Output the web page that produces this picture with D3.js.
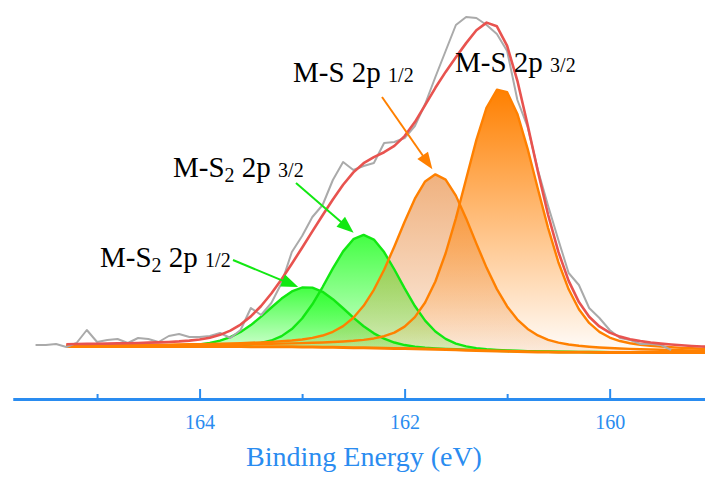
<!DOCTYPE html>
<html><head><meta charset="utf-8">
<script src="https://cdn.jsdelivr.net/npm/d3@7"></script>
<style>body{margin:0;background:#fff;} svg{display:block;} text{white-space:pre;}</style>
</head><body><svg id="chart" width="705" height="478"></svg>
<script>
// ---------- DATA ----------
// raw spectrum: binding energy (eV) and intensity (a.u.)
const rawEnergy = [165.6,165.5,165.4,165.3,165.2,165.1,165.0,164.9,164.8,164.7,164.6,164.5,164.4,164.3,164.2,164.1,164.0,
  163.9,163.8,163.7,163.6,163.5,163.4,163.3,163.2,163.1,163.0,162.9,162.8,162.7,162.6,162.5,162.4,162.3,162.2,162.1,162.0,
  161.9,161.8,161.7,161.6,161.5,161.4,161.3,161.2,161.1,161.0,160.9,160.8,160.7,160.6,160.5,160.4,160.3,160.2,160.1,160.0,
  159.9,159.8,159.7,159.6,159.5,159.4];
const rawCounts = [10,10,11,8,12,25,13,15,16,12,17,16,13,19,21,18,18,
  19,22,17,25,47,40,52,72,103,119,138,150,175,193,185,189,192,212,213,217,
  229,251,278,304,330,338,337,330,321,304,255,228,185,149,115,82,70,47,37,25,
  17,15,11,11,10,5];

// fitted components (pseudo-Voigt parameters)
const peakNames    = ["M-S2 2p1/2", "M-S2 2p3/2", "M-S 2p1/2", "M-S 2p3/2"];
const peakCenters  = [162.95, 162.40, 161.69, 161.06];   // eV
const peakHeights  = [60, 113, 175, 263];                // a.u. above background
const peakFWHM     = [0.90, 0.84, 0.94, 0.88];           // eV
const peakLorentz  = [0.10, 0.10, 0.35, 0.30];           // Lorentzian fraction
const backgroundHigh = 8.5;   // Shirley background, high-BE end
const backgroundLow  = 2.5;   // Shirley background, low-BE end
const fitRange = [165.3, 159.0];
const fitStep = 0.1;

const majorTicks = [164, 162, 160];
const minorTicks = [165, 163, 161];
const xTitle = "Binding Energy (eV)";

// ---------- STYLE ----------
const peakStroke = ["#12e812", "#12e812", "#ff8000", "#ff8000"];
const peakFill   = [
  {c:"#22ff22", top:0.85, bot:0.18},
  {c:"#22ff22", top:0.85, bot:0.18},
  {c:"#e8893c", top:0.66, bot:0.15},
  {c:"#ff8000", top:1.0,  bot:0.02}
];
const axisColor = "#2a8cf0";
const serif = "'Liberation Serif','Times New Roman',Times,serif";

const svg = d3.select("#chart");
const x = d3.scaleLinear().domain([165.82, 159.07]).range([13, 705]);
const y = d3.scaleLinear().domain([0, 355]).range([355, 0]);

// fit grid
const nFit = Math.round((fitRange[0] - fitRange[1]) / fitStep) + 1;
const fitE = d3.range(nFit).map(i => +(fitRange[0] - i * fitStep).toFixed(2));
function pv(E, k) {
  const d = E - peakCenters[k], w = peakFWHM[k], m = peakLorentz[k];
  const g = Math.exp(-4 * Math.LN2 * d * d / (w * w));
  const l = 1 / (1 + 4 * d * d / (w * w));
  return peakHeights[k] * ((1 - m) * g + m * l);
}
const comps = peakNames.map((_, k) => fitE.map(E => pv(E, k)));
const sumSig = fitE.map((_, i) => d3.sum(comps, c => c[i]));
// Shirley-type background: proportional to area on the low-BE side
const total = d3.sum(sumSig);
const bg = fitE.map((_, i) => {
  let right = 0;
  for (let j = i + 1; j < fitE.length; j++) right += sumSig[j];
  return backgroundLow + (backgroundHigh - backgroundLow) * right / total;
});

const defs = svg.append("defs");
peakFill.forEach((f, k) => {
  const g = defs.append("linearGradient").attr("id", "grad" + k)
    .attr("x1", 0).attr("y1", 0).attr("x2", 0).attr("y2", 1);
  g.append("stop").attr("offset", 0).attr("stop-color", f.c).attr("stop-opacity", f.top);
  g.append("stop").attr("offset", 1).attr("stop-color", f.c).attr("stop-opacity", f.bot);
});

const area = d3.area().x(d => x(d.E)).y0(d => y(d.b)).y1(d => y(d.b + d.v));
const line = d3.line().x(d => x(d.E)).y(d => y(d.v));
const compData = comps.map(c => c.map((v, i) => ({E: fitE[i], b: bg[i], v})));

const gPlot = svg.append("g");
compData.forEach((cd, k) => {
  gPlot.append("path").datum(cd).attr("d", area).attr("fill", `url(#grad${k})`);
});
compData.forEach((cd, k) => {
  gPlot.append("path").datum(cd.map(d => ({E: d.E, v: d.b + d.v}))).attr("d", line)
    .attr("fill", "none").attr("stroke", peakStroke[k]).attr("stroke-width", 2.4)
    .attr("stroke-linejoin", "round");
});
// background line
gPlot.append("path").datum(fitE.map((E, i) => ({E, v: bg[i]}))).attr("d", line)
  .attr("fill", "none").attr("stroke", "#ff8000").attr("stroke-width", 3);

// raw data
gPlot.append("path").datum(rawEnergy.map((E, i) => ({E, v: rawCounts[i]}))).attr("d", line)
  .attr("fill", "none").attr("stroke", "#aaaaaa").attr("stroke-width", 2).attr("stroke-linejoin", "round");
// envelope
gPlot.append("path").datum(fitE.map((E, i) => ({E, v: bg[i] + sumSig[i]}))).attr("d", line)
  .attr("fill", "none").attr("stroke", "#e8534f").attr("stroke-width", 2.6).attr("stroke-linejoin", "round");

// ---------- annotations ----------
function peakTop(k) {
  const E = peakCenters[k];
  let i = d3.minIndex(fitE, e => Math.abs(e - E));
  return [x(E), y(bg[i] + pv(E, k))];
}
function arrow(x1, y1, x2, y2, color) {
  const dx = x2 - x1, dy = y2 - y1, L = Math.hypot(dx, dy);
  const ux = dx / L, uy = dy / L, hl = 17, hw = 6.5;
  const bx = x2 - ux * hl, by = y2 - uy * hl;
  svg.append("line").attr("x1", x1).attr("y1", y1).attr("x2", bx + ux * 2).attr("y2", by + uy * 2)
    .attr("stroke", color).attr("stroke-width", 2);
  svg.append("path").attr("d", `M${x2},${y2}L${bx - uy * hw},${by + ux * hw}L${bx + uy * hw},${by - ux * hw}Z`)
    .attr("fill", color);
}
const annotations = [
  {k: 0, parts: [["M-S",0],["2",1],[" 2p ",0],["1/2",2]], tx: 100, ty: 267, sx: 233, sy: 260, off: [-9, 0]},
  {k: 1, parts: [["M-S",0],["2",1],[" 2p ",0],["3/2",2]], tx: 173, ty: 177, sx: 296, sy: 183, off: [-10, -2]},
  {k: 2, parts: [["M-S 2p ",0],["1/2",2]], tx: 293, ty: 82, sx: 382, sy: 97, off: [-4, -5]},
  {k: 3, parts: [["M-S 2p ",0],["3/2",2]], tx: 455, ty: 72}
];
annotations.forEach(a => {
  const t = svg.append("text").attr("x", a.tx).attr("y", a.ty)
    .attr("font-family", serif).attr("fill", "#000");
  let shift = 0;
  a.parts.forEach(([s, type]) => {
    const ts = t.append("tspan").text(s);
    if (type === 0) { ts.attr("font-size", 29); if (shift) { ts.attr("dy", -shift); shift = 0; } }
    else if (type === 1) { ts.attr("font-size", 20).attr("dy", 5); shift = 5; }
    else { ts.attr("font-size", 20); if (shift) { ts.attr("dy", -shift); shift = 0; } }
  });
  if (a.sx !== undefined) {
    const [px, py] = peakTop(a.k);
    arrow(a.sx, a.sy, px + a.off[0], py + a.off[1], peakStroke[a.k]);
  }
});

// ---------- axis ----------
const axisY = 399;
const gMinor = svg.append("g").attr("transform", `translate(0,${axisY})`)
  .call(d3.axisBottom(x).tickValues(minorTicks).tickSizeInner(-5).tickSizeOuter(0).tickFormat(""));
const gMajor = svg.append("g").attr("transform", `translate(0,${axisY})`)
  .call(d3.axisBottom(x).tickValues(majorTicks).tickSizeInner(-10).tickSizeOuter(0).tickPadding(16).tickFormat(d3.format("d")));
[gMinor, gMajor].forEach(g => {
  g.attr("font-family", serif);
  g.select(".domain").attr("stroke", axisColor).attr("stroke-width", 3);
  g.selectAll(".tick line").attr("stroke", axisColor).attr("stroke-width", 2);
  g.selectAll(".tick text").attr("fill", axisColor).attr("font-family", serif).attr("font-size", 20);
});
svg.append("text").attr("x", 364).attr("y", 466).attr("text-anchor", "middle")
  .attr("font-family", serif).attr("font-size", 28).attr("fill", axisColor).text(xTitle);
</script></body></html>
